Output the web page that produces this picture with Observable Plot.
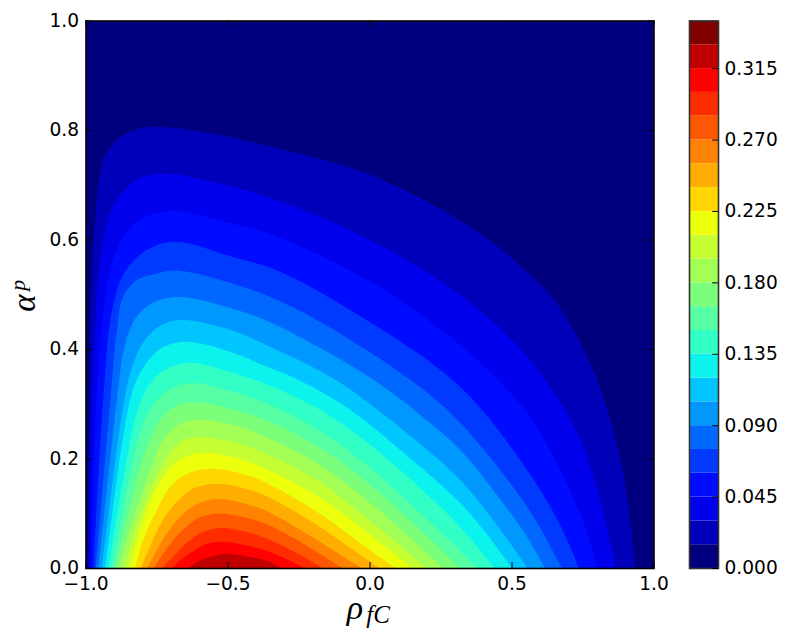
<!DOCTYPE html>
<html><head><meta charset="utf-8">
<script src="https://cdn.jsdelivr.net/npm/d3@7"></script>
<script src="https://cdn.jsdelivr.net/npm/@observablehq/plot@0.6"></script>
<style>html,body{margin:0;padding:0;background:#fff}#chart{position:relative;width:789px;height:644px;overflow:hidden}</style>
</head><body><div id="chart"></div>
<script>
const xTicks = [-1, -0.5, 0, 0.5, 1];
const yTicks = [0, 0.2, 0.4, 0.6, 0.8, 1];
const barTicks = [0, 0.045, 0.09, 0.135, 0.18, 0.225, 0.27, 0.315];
const bandLow = [0,0.015,0.03,0.045,0.06,0.075,0.09,0.105,0.12,0.135,0.15,0.165,0.18,0.195,0.21,0.225,0.24,0.255,0.27,0.285,0.3,0.315,0.33];
const bandColors = ["#00007f","#0000bb","#0000ed","#000cff","#003aff","#0068ff","#0097ff","#00c5ff","#0bf3ec","#31ffc6","#56ffa1","#7bff7b","#a1ff56","#c6ff31","#ecff0b","#ffd700","#ffad00","#ff8200","#ff5700","#ff2c00","#ff0100","#c00000","#800000"];

// Each contour: rho and alpha readings along the boundary of the region above that level
const rho1 = [-.995,-.989,-.980,-.958,-.933,-.880,-.827,-.757,-.553,-.317,0,.352,.553,.669,.799,.891,.933];
const alpha1 = [0,.272,.514,.691,.755,.788,.801,.807,.794,.766,.719,.624,.542,.476,.345,.175,0];
const rho2 = [-.989,-.975,-.954,-.926,-.880,-.810,-.722,-.553,-.317,0,.317,.553,.729,.810,.866];
const alpha2 = [0,.363,.545,.633,.682,.713,.721,.706,.671,.600,.500,.387,.248,.125,0];
const rho3 = [-.982,-.958,-.915,-.873,-.810,-.697,-.493,-.317,0,.317,.553,.729,.803];
const alpha3 = [0,.363,.545,.600,.637,.653,.631,.604,.524,.408,.284,.113,0];
const rho4 = [-.974,-.940,-.908,-.863,-.785,-.687,-.493,-.317,-.035,.317,.553,.669,.736];
const alpha4 = [0,.303,.472,.542,.582,.597,.571,.542,.461,.332,.180,.080,0];
const rho5 = [-.966,-.915,-.891,-.870,-.820,-.757,-.676,-.493,-.352,-.187,.141,.317,.553,.676];
const alpha5 = [0,.303,.436,.496,.527,.538,.544,.522,.496,.454,.345,.266,.113,0];
const rho6 = [-.957,-.919,-.891,-.863,-.820,-.757,-.669,-.493,-.352,-.176,.011,.176,.317,.433,.553,.616];
const alpha6 = [0,.180,.308,.408,.461,.487,.496,.476,.450,.403,.345,.281,.217,.144,.058,0];
const rho7 = [-.945,-.901,-.873,-.838,-.792,-.732,-.658,-.493,-.352,-.123,.106,.317,.433,.556];
const alpha7 = [0,.180,.284,.368,.418,.445,.454,.436,.405,.345,.257,.162,.089,0];
const rho8 = [-.933,-.887,-.863,-.835,-.792,-.732,-.651,-.493,-.352,-.254,-.070,.106,.317,.412,.500];
const alpha8 = [0,.180,.259,.326,.372,.403,.414,.396,.366,.345,.290,.217,.120,.062,0];
const rho9 = [-.921,-.863,-.820,-.778,-.722,-.634,-.493,-.352,-.176,0,.176,.317,.440];
const alpha9 = [0,.180,.286,.335,.363,.376,.359,.334,.290,.226,.147,.076,0];
const rho10 = [-.908,-.842,-.810,-.764,-.704,-.627,-.493,-.352,-.176,0,.176,.282,.380];
const alpha10 = [0,.180,.248,.299,.328,.339,.324,.299,.251,.184,.102,.051,0];
const rho11 = [-.898,-.813,-.782,-.739,-.683,-.616,-.493,-.352,-.176,0,.176,.320];
const alpha11 = [0,.180,.226,.272,.297,.304,.292,.268,.220,.153,.071,0];
const rho12 = [-.884,-.835,-.775,-.729,-.669,-.606,-.475,-.352,-.176,0,.141,.257];
const alpha12 = [0,.089,.177,.235,.264,.272,.261,.237,.189,.120,.056,0];
const rho13 = [-.866,-.820,-.775,-.739,-.697,-.651,-.599,-.475,-.352,-.176,0,.106,.201];
const alpha13 = [0,.080,.144,.180,.217,.235,.240,.230,.206,.158,.087,.041,0];
const rho14 = [-.847,-.810,-.764,-.715,-.662,-.581,-.458,-.352,-.176,0,.148];
const alpha14 = [0,.071,.135,.177,.202,.211,.200,.178,.129,.062,0];
const rho15 = [-.827,-.799,-.750,-.704,-.644,-.553,-.423,-.352,-.176,-.035,.092];
const alpha15 = [0,.052,.107,.149,.173,.182,.169,.153,.100,.047,0];
const rho16 = [-.807,-.775,-.729,-.680,-.623,-.539,-.423,-.352,-.176,-.070,.035];
const alpha16 = [0,.040,.089,.122,.146,.155,.144,.129,.076,.038,0];
const rho17 = [-.786,-.750,-.711,-.669,-.609,-.535,-.423,-.352,-.211,-.028];
const alpha17 = [0,.034,.067,.094,.118,.127,.116,.102,.060,0];
const rho18 = [-.761,-.711,-.658,-.599,-.528,-.423,-.352,-.211,-.095];
const alpha18 = [0,.040,.071,.093,.100,.091,.078,.038,0];
const rho19 = [-.733,-.694,-.644,-.588,-.518,-.423,-.352,-.246,-.165];
const alpha19 = [0,.021,.047,.067,.074,.065,.052,.025,0];
const rho20 = [-.698,-.669,-.627,-.574,-.518,-.423,-.352,-.282,-.229];
const alpha20 = [0,.014,.030,.045,.049,.041,.030,.014,0];
const rho21 = [-.641,-.599,-.563,-.511,-.423,-.352,-.310];
const alpha21 = [0,.014,.021,.027,.021,.012,0];

const contours = [
  [rho1,alpha1],[rho2,alpha2],[rho3,alpha3],[rho4,alpha4],[rho5,alpha5],[rho6,alpha6],[rho7,alpha7],
  [rho8,alpha8],[rho9,alpha9],[rho10,alpha10],[rho11,alpha11],[rho12,alpha12],[rho13,alpha13],[rho14,alpha14],
  [rho15,alpha15],[rho16,alpha16],[rho17,alpha17],[rho18,alpha18],[rho19,alpha19],[rho20,alpha20],[rho21,alpha21]
];

const FONT = "DejaVu Sans";
const SIZE = 18.6;
const MATH = "Liberation Serif";

const main = Plot.plot({
  width: 789, height: 644,
  marginLeft: 85.5, marginRight: 135.5, marginTop: 20.5, marginBottom: 76,
  style: {fontFamily: FONT, background: "none", position: "absolute", left: 0, top: 0, overflow: "visible"},
  x: {domain: [-1, 1], label: null},
  y: {domain: [0, 1], label: null},
  marks: [
    Plot.frame({fill: bandColors[0], stroke: "none"}),
    ...contours.map(([r, a], i) => Plot.line(a, {x: r, y: a, curve: "catmull-rom", fill: bandColors[i + 1], stroke: "none", clip: true})),
    Plot.frame({stroke: "#000", strokeWidth: 1.6}),
    Plot.ruleX(xTicks, {y1: 0, y2: 0.011, stroke: "#000", strokeWidth: 1}),
    Plot.ruleX(xTicks, {y1: 1, y2: 0.989, stroke: "#000", strokeWidth: 1}),
    Plot.ruleY(yTicks, {x1: -1, x2: -0.979, stroke: "#000", strokeWidth: 1}),
    Plot.ruleY(yTicks, {x1: 1, x2: 0.979, stroke: "#000", strokeWidth: 1}),
    Plot.axisX(xTicks, {tickSize: 0, tickPadding: 8, tickFormat: d3.format(".1f"), fontSize: SIZE, label: null, fill: "#000"}),
    Plot.axisY(yTicks, {tickSize: 0, tickPadding: 7, tickFormat: d3.format(".1f"), fontSize: SIZE, label: null, fill: "#000"}),
    Plot.text(["ρ"], {frameAnchor: "bottom", dx: -15, dy: 50, fontFamily: MATH, fontStyle: "italic", fontSize: 34, fill: "#000", lineAnchor: "bottom"}),
    Plot.text(["fC"], {frameAnchor: "bottom", dx: 8, dy: 54, fontFamily: MATH, fontStyle: "italic", fontSize: 25, fill: "#000", lineAnchor: "bottom"}),
    Plot.text(["α"], {frameAnchor: "left", dx: -62, dy: 17, rotate: -90, fontFamily: MATH, fontStyle: "italic", fontSize: 33, fill: "#000"}),
    Plot.text(["p"], {frameAnchor: "left", dx: -68, dy: -4, rotate: -90, fontFamily: MATH, fontStyle: "italic", fontSize: 22, fill: "#000"})
  ]
});

const bar = Plot.plot({
  width: 789, height: 644,
  marginLeft: 689, marginRight: 71, marginTop: 20.5, marginBottom: 76,
  style: {fontFamily: FONT, background: "none", position: "absolute", left: 0, top: 0, overflow: "visible"},
  x: {domain: [0, 1], axis: null},
  y: {domain: [0, 0.345], label: null},
  marks: [
    Plot.rect(bandLow, {x1: 0, x2: 1, y1: d => d, y2: d => d + 0.015, fill: (d, i) => bandColors[i]}),
    Plot.frame({stroke: "#333", strokeWidth: 1.6}),
    Plot.ruleY(barTicks, {x1: 1, x2: 0.8, stroke: "#000", strokeWidth: 1}),
    Plot.axisY(barTicks, {anchor: "right", tickSize: 0, tickPadding: 6, tickFormat: d3.format(".3f"), fontSize: SIZE, label: null, fill: "#000"})
  ]
});
document.getElementById("chart").append(main, bar);
</script></body></html>
